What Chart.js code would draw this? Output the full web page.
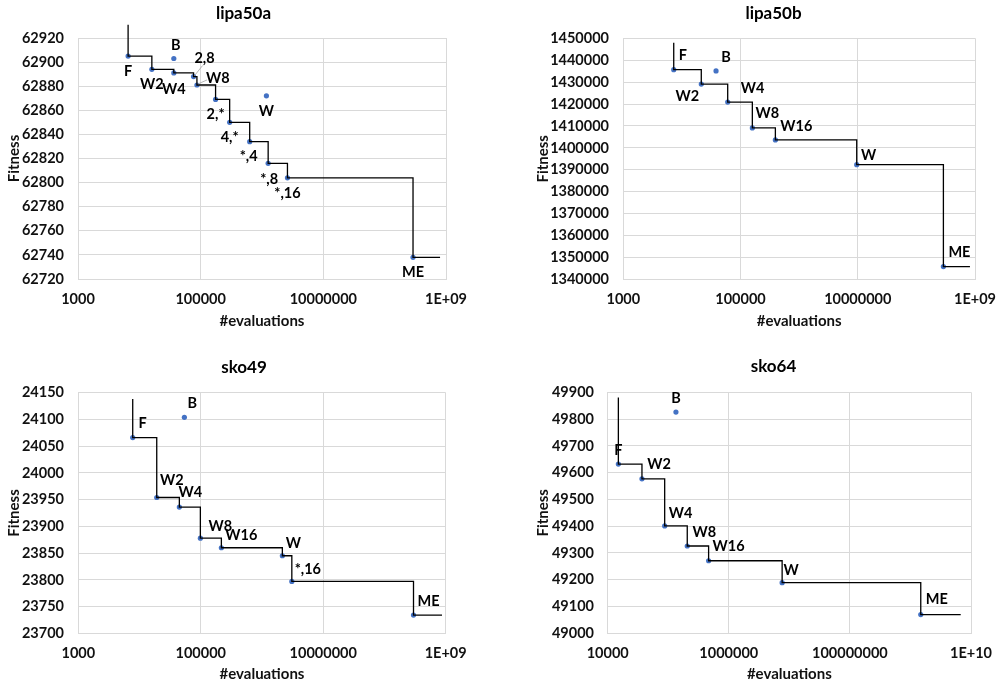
<!DOCTYPE html>
<html><head><meta charset="utf-8">
<script src="https://cdn.jsdelivr.net/npm/chart.js@4.4.1/dist/chart.umd.min.js"></script>
<style>
html,body{margin:0;padding:0;background:#fff;overflow:hidden;width:996px;height:685px;}
.panel{position:absolute;}
</style></head><body>
<div class="panel" style="left:0;top:0;width:487px;height:340px"><canvas id="c1"></canvas></div>
<div class="panel" style="left:498px;top:0;width:551px;height:340px"><canvas id="c2"></canvas></div>
<div class="panel" style="left:0;top:340px;width:488px;height:345px"><canvas id="c3"></canvas></div>
<div class="panel" style="left:498px;top:340px;width:551px;height:345px"><canvas id="c4"></canvas></div>
<script>
// ---------- data ----------
const lipa50aLabels  = ['F','W2','W4','2,8','W8','2,*','4,*','*,4','*,8','*,16','ME','B','W'];
const lipa50aEvals   = [6560, 16000, 36500, 76600, 86900, 175000, 297000, 630000, 1260000, 2600000, 290000000, 36500, 1180000];
const lipa50aFitness = [62905, 62894, 62891, 62888, 62881, 62869, 62850, 62834, 62816, 62804, 62738, 62903, 62872];
const lipa50aStep    = ['F','W2','W4','2,8','W8','2,*','4,*','*,4','*,8','*,16','ME'];
const lipa50aStepStart = 62931;
const lipa50aStepEnd   = 800000000;
const lipa50aXTicks  = [1000, 100000, 10000000, 1000000000];
const lipa50aXTickLabels = ['1000','100000','10000000','1E+09'];
const lipa50aYTicks  = [62720,62740,62760,62780,62800,62820,62840,62860,62880,62900,62920];

const lipa50bLabels  = ['F','W2','W4','W8','W16','W','ME','B'];
const lipa50bEvals   = [7250, 21400, 60400, 159000, 393000, 9600000, 289000000, 38200];
const lipa50bFitness = [1435700, 1429100, 1420900, 1409100, 1403600, 1392300, 1345800, 1435100];
const lipa50bStep    = ['F','W2','W4','W8','W16','W','ME'];
const lipa50bStepStart = 1448000;
const lipa50bStepEnd   = 820000000;
const lipa50bXTicks  = [1000, 100000, 10000000, 1000000000];
const lipa50bXTickLabels = ['1000','100000','10000000','1E+09'];
const lipa50bYTicks  = [1340000,1350000,1360000,1370000,1380000,1390000,1400000,1410000,1420000,1430000,1440000,1450000];

const sko49Labels  = ['F','W2','W4','W8','W16','W','*,16','ME','B'];
const sko49Evals   = [7740, 19100, 44700, 98500, 217000, 2150000, 3070000, 298000000, 54000];
const sko49Fitness = [24066, 23954, 23936, 23878, 23860, 23845, 23797, 23734, 24104];
const sko49Step    = ['F','W2','W4','W8','W16','W','*,16','ME'];
const sko49StepStart = 24138;
const sko49StepEnd   = 870000000;
const sko49XTicks  = [1000, 100000, 10000000, 1000000000];
const sko49XTickLabels = ['1000','100000','10000000','1E+09'];
const sko49YTicks  = [23700,23750,23800,23850,23900,23950,24000,24050,24100,24150];

const sko64Labels  = ['F','W2','W4','W8','W16','W','ME','B'];
const sko64Evals   = [15000, 36800, 87300, 206000, 464000, 7600000, 1480000000, 134000];
const sko64Fitness = [49632, 49577, 49401, 49326, 49271, 49189, 49070, 49826];
const sko64Step    = ['F','W2','W4','W8','W16','W','ME'];
const sko64StepStart = 49881;
const sko64StepEnd   = 6760000000;
const sko64XTicks  = [10000, 1000000, 100000000, 10000000000];
const sko64XTickLabels = ['10000','1000000','100000000','1E+10'];
const sko64YTicks  = [49000,49100,49200,49300,49400,49500,49600,49700,49800,49900];

// ---------- label placement (layout only) ----------
const lipa50aOffsets = [[0,15],[0,15],[0,16],[11,-18,9,-11,1,-1],[21,-7,10,-5,1,-1],[0,15],[0,15],[-1,15],[1,16],[0,16],[0,15],[2,-13],[0,15]];
const lipa50bOffsets = [[9,-14],[-14,12],[25,-14],[15,-15],[21,-14],[12,-9],[16,-14],[10,-14]];
const sko49Offsets   = [[10,-14],[15,-17],[11,-15],[20,-12],[20,-12],[11,-12],[16,-12],[15,-14],[8,-14]];
const sko64Offsets   = [[0,-14],[17,-14],[16,-13],[17,-14],[20,-14],[9,-12],[16,-15],[0,-14]];

const FONT = 'Lato';
const TXT = '#111';

const pointLabelPlugin = {
  id: 'pointLabels',
  afterDatasetsDraw(chart, args, opts) {
    const meta = chart.getDatasetMeta(1);
    const ctx = chart.ctx;
    ctx.save();
    ctx.font = 'bold 14.5px ' + FONT;
    ctx.fillStyle = '#000';
    ctx.textAlign = 'center';
    ctx.textBaseline = 'middle';
    opts.labels.forEach((t, i) => {
      const el = meta.data[i];
      const o = opts.offsets[i];
      if (o.length > 2) {
        ctx.strokeStyle = '#a6a6a6';
        ctx.lineWidth = 0.8;
        ctx.beginPath();
        ctx.moveTo(el.x + o[2], el.y + o[3]);
        ctx.lineTo(el.x + o[4], el.y + o[5]);
        ctx.stroke();
      }
      ctx.fillText(t, el.x + o[0], el.y + o[1]);
    });
    ctx.restore();
  }
};

function makePanel(canvasId, d, L) {
  const pts = d.evals.map((e, i) => ({x: e, y: d.fitness[i]}));
  const step = [{x: d.evals[d.labels.indexOf(d.step[0])], y: d.stepStart}];
  d.step.forEach(lb => { const i = d.labels.indexOf(lb); step.push({x: d.evals[i], y: d.fitness[i]}); });
  step.push({x: d.stepEnd, y: step[step.length - 1].y});
  const tickFont = {family: FONT, size: 14.5, weight: 'bold'};
  const titleFont = {family: FONT, size: 15, weight: 'bold'};
  new Chart(document.getElementById(canvasId), {
    type: 'scatter',
    data: {datasets: [
      {type: 'line', data: step, stepped: 'before', borderColor: '#000', borderWidth: 1.3,
       pointRadius: 0, fill: false, clip: false, order: 0},
      {type: 'scatter', data: pts, pointRadius: 2.6, pointBackgroundColor: '#4472C4',
       pointBorderWidth: 0, order: 1}
    ]},
    options: {
      responsive: true, maintainAspectRatio: false, animation: false, events: [],
      layout: {padding: 0},
      plugins: {
        legend: {display: false}, tooltip: {enabled: false},
        title: {display: true, text: d.title, color: '#000',
          font: {family: FONT, size: 17, weight: 'bold'},
          padding: {top: L.tPadT, bottom: L.tPadB}},
        pointLabels: {labels: d.labels, offsets: d.offsets}
      },
      scales: {
        x: {type: 'logarithmic', position: 'bottom',
          min: d.xTicks[0], max: d.xTicks[d.xTicks.length - 1],
          afterBuildTicks: s => { s.ticks = d.xTicks.map(v => ({value: v})); },
          afterFit: s => { s.height = L.xH; },
          grid: {color: '#d9d9d9', lineWidth: 1, drawTicks: false},
          border: {color: '#d9d9d9'},
          ticks: {padding: L.xTickPad, color: TXT, font: tickFont, maxRotation: 0, autoSkip: false,
            callback: (v, i) => d.xTickLabels[i]},
          title: {display: true, text: '#evaluations', color: TXT, font: titleFont,
            padding: {top: 0, bottom: L.xTitlePB}}
        },
        y: {type: 'linear', position: 'left',
          min: d.yTicks[0], max: d.yTicks[d.yTicks.length - 1],
          afterBuildTicks: s => { s.ticks = d.yTicks.map(v => ({value: v})); },
          afterFit: s => { s.width = L.yW; },
          grid: {color: '#d9d9d9', lineWidth: 1, drawTicks: false},
          border: {color: '#d9d9d9'},
          ticks: {padding: L.yTickPad, color: TXT, font: tickFont, autoSkip: false,
            callback: v => String(v)},
          title: {display: true, text: 'Fitness', color: TXT, font: titleFont,
            padding: {top: L.yTitlePT, bottom: 0}}
        },
        yPad: {type: 'linear', position: 'right', display: true,
          grid: {display: false, drawTicks: false}, border: {display: false},
          ticks: {display: false}, afterFit: s => { s.width = L.rightW; }}
      }
    },
    plugins: [pointLabelPlugin]
  });
}

makePanel('c1', {title: 'lipa50a', labels: lipa50aLabels, evals: lipa50aEvals, fitness: lipa50aFitness,
  step: lipa50aStep, stepStart: lipa50aStepStart, stepEnd: lipa50aStepEnd, xTicks: lipa50aXTicks,
  xTickLabels: lipa50aXTickLabels, yTicks: lipa50aYTicks, offsets: lipa50aOffsets},
  {tPadT: 3.8, tPadB: 13.8, xH: 61, xTickPad: 11.6, xTitlePB: 10.3, yW: 78, yTickPad: 14, yTitlePT: 5, rightW: 41});

makePanel('c2', {title: 'lipa50b', labels: lipa50bLabels, evals: lipa50bEvals, fitness: lipa50bFitness,
  step: lipa50bStep, stepStart: lipa50bStepStart, stepEnd: lipa50bStepEnd, xTicks: lipa50bXTicks,
  xTickLabels: lipa50bXTickLabels, yTicks: lipa50bYTicks, offsets: lipa50bOffsets},
  {tPadT: 3.8, tPadB: 14.1, xH: 60.7, xTickPad: 11.3, xTitlePB: 10.3, yW: 125.3, yTickPad: 14.3, yTitlePT: 36.3, rightW: 74});

makePanel('c3', {title: 'sko49', labels: sko49Labels, evals: sko49Evals, fitness: sko49Fitness,
  step: sko49Step, stepStart: sko49StepStart, stepEnd: sko49StepEnd, xTicks: sko49XTicks,
  xTickLabels: sko49XTickLabels, yTicks: sko49YTicks, offsets: sko49Offsets},
  {tPadT: 17.1, tPadB: 15.2, xH: 51.7, xTickPad: 11.3, xTitlePB: 1.7, yW: 78.3, yTickPad: 14.3, yTitlePT: 5, rightW: 42.3});

makePanel('c4', {title: 'sko64', labels: sko64Labels, evals: sko64Evals, fitness: sko64Fitness,
  step: sko64Step, stepStart: sko64StepStart, stepEnd: sko64StepEnd, xTicks: sko64XTicks,
  xTickLabels: sko64XTickLabels, yTicks: sko64YTicks, offsets: sko64Offsets},
  {tPadT: 16.5, tPadB: 15.4, xH: 51.7, xTickPad: 11.3, xTitlePB: 1.7, yW: 109.7, yTickPad: 13.7, yTitlePT: 36.3, rightW: 78});
</script>
</body></html>
